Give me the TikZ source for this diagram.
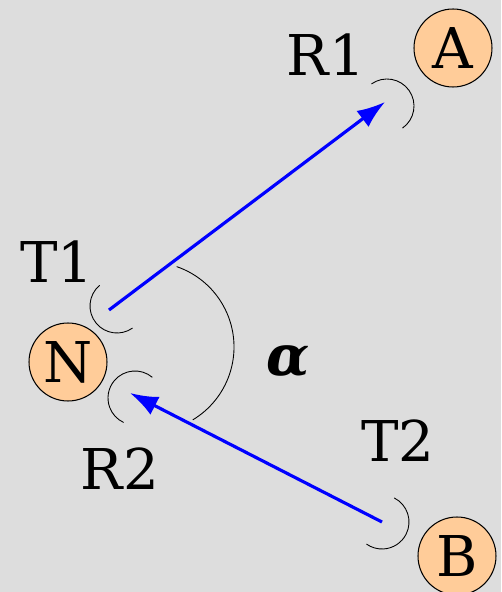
\documentclass[tikz,border=0pt]{standalone}
\usepackage{fontspec}
\setmainfont{DejaVu Serif}
\usetikzlibrary{arrows.meta}
\definecolor{bggrey}{HTML}{DDDDDD}
\definecolor{peach}{HTML}{FFCC99}
\begin{document}
\begin{tikzpicture}[x=0.02cm,y=0.02cm,
  font=\fontsize{32}{38}\selectfont,
  station/.style={circle,draw,fill=peach,line width=0.6pt,minimum size=1.56cm,inner sep=0pt},
  vec/.style={-{Latex[length=0.56cm,width=0.4cm]},blue,line width=1.8pt},
  angarc/.style={line width=0.5pt}]
\fill[bggrey] (0,0) rectangle (501,592);
\useasboundingbox (0,0) rectangle (501,592);

\node[station] (A) at (453,544) {A};
\node[station] (N) at (68,230) {N};
\node[station] (B) at (457,36) {B};

\node (R1) at (326,537) {R1};
\node (T1) at (57,330) {T1};
\node (R2) at (120,123) {R2};
\node (T2) at (398,151) {T2};
\node (alpha) at (288,230) {\bfseries\itshape α};

\coordinate (t1) at (109,282);
\coordinate (r1) at (385,490);
\coordinate (t2) at (382,70);
\coordinate (r2) at (130,199);
\draw[vec] (t1) -- (r1);
\draw[vec] (t2) -- (r2);

\draw[angarc] (117,286) ++(130:27) arc (130:305:27);
\draw[angarc] (387,486) ++(125:27) arc (125:-55:27);
\draw[angarc] (135,194) ++(50:27) arc (50:245:27);
\draw[angarc] (382,70) ++(63:27) arc (63:-125:27);
\draw[angarc] (149,245) ++(71:85) arc (71:-59:85);
\end{tikzpicture}
\end{document}
